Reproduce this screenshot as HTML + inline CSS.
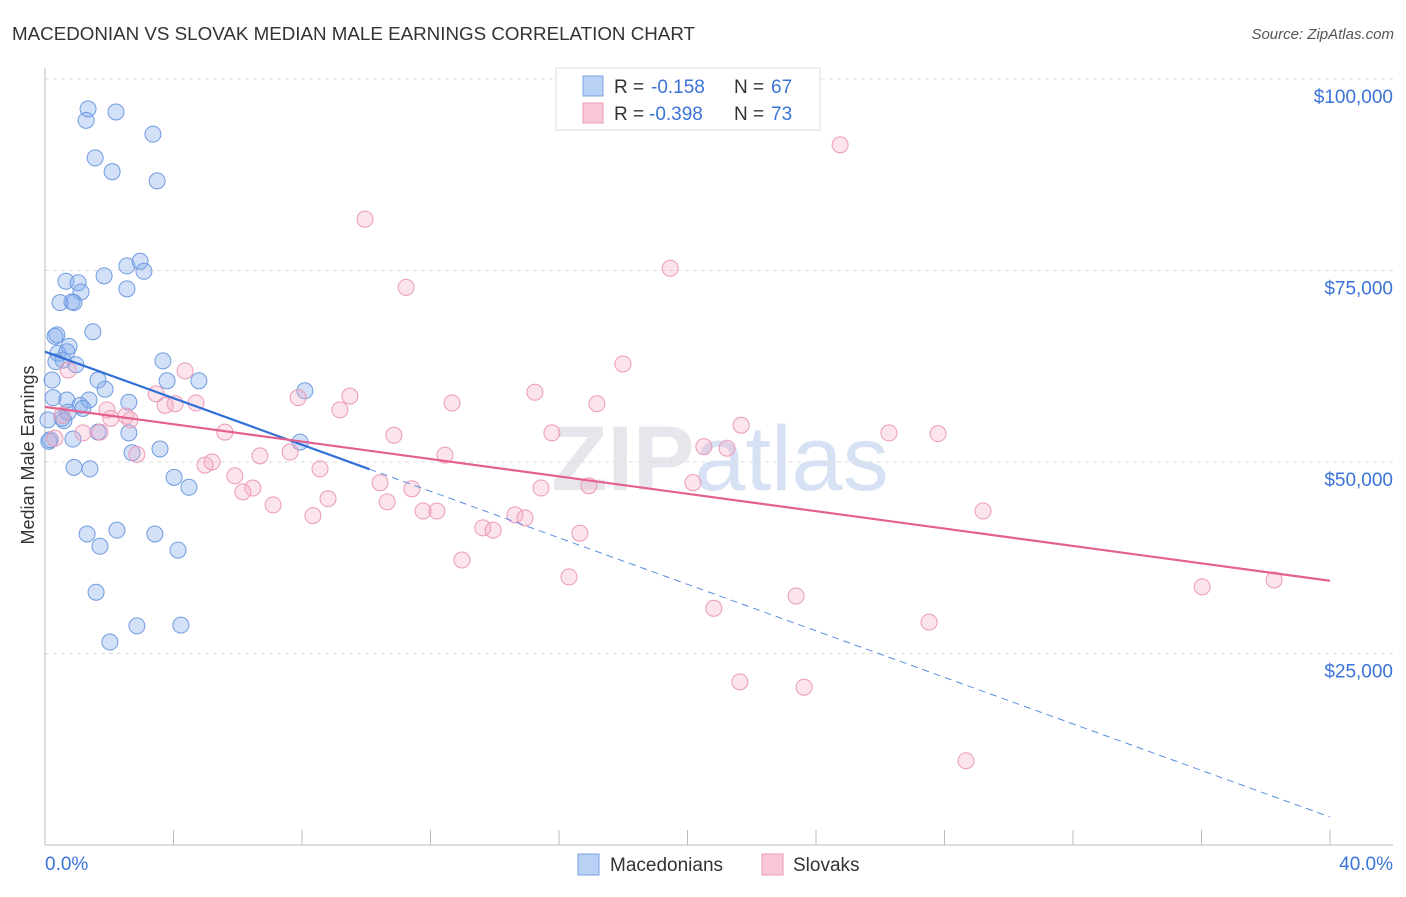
<!DOCTYPE html>
<html><head><meta charset="utf-8">
<style>
body{margin:0;background:#fff;font-family:"Liberation Sans",sans-serif;}
svg text{font-family:"Liberation Sans",sans-serif;}
</style></head>
<body>
<svg id="chart" width="1406" height="892" xmlns="http://www.w3.org/2000/svg">
<text x="12" y="40" font-size="18" fill="#333" textLength="683" lengthAdjust="spacingAndGlyphs">MACEDONIAN VS SLOVAK MEDIAN MALE EARNINGS CORRELATION CHART</text>
<text x="1394" y="39" font-size="15" fill="#555" text-anchor="end" font-style="italic">Source: ZipAtlas.com</text>
<text x="720" y="490" font-size="92" fill="#e6e6ec" text-anchor="middle" font-weight="bold">ZIP<tspan fill="#d6e2f4" font-weight="normal">atlas</tspan></text>
<g id="grid"></g>
<g id="axes"></g>
<g id="pts"></g>
<g id="lines"></g>
<text transform="translate(34,455) rotate(-90)" font-size="18" fill="#333" text-anchor="middle">Median Male Earnings</text>
<g>
<rect x="556" y="68" width="264" height="62" fill="#fff" stroke="#ddd"/>
<rect x="583" y="76" width="20" height="20" fill="#b9d1f5" stroke="#7aa3e2"/>
<rect x="583" y="103" width="20" height="20" fill="#f9c8d7" stroke="#eb9ab7"/>
<text x="614" y="93" font-size="19" fill="#333">R =</text>
<text x="651" y="93" font-size="19" fill="#3b74d9">-0.158</text>
<text x="734" y="93" font-size="19" fill="#333">N =</text>
<text x="771" y="93" font-size="19" fill="#3b74d9">67</text>
<text x="614" y="120" font-size="19" fill="#333">R =</text>
<text x="649" y="120" font-size="19" fill="#3b74d9">-0.398</text>
<text x="734" y="120" font-size="19" fill="#333">N =</text>
<text x="771" y="120" font-size="19" fill="#3b74d9">73</text>
</g>
<g>
<rect x="578" y="854" width="21" height="21" fill="#b9d1f5" stroke="#7aa3e2"/>
<text x="610" y="871" font-size="19" fill="#333">Macedonians</text>
<rect x="762" y="854" width="21" height="21" fill="#f9c8d7" stroke="#eb9ab7"/>
<text x="793" y="871" font-size="19" fill="#333">Slovaks</text>
</g>
</svg>
<script>
const yTicks=[25,50,75,100];
const yTickLabels=["$25,000","$50,000","$75,000","$100,000"];
const xTickLabels=["0.0%","40.0%"];
const bluePx=[[88,109],[116,112],[86,120],[153,134],[95,158],[112,172],[157,181],[127,266],[140,261],[144,271],[104,276],[66,281],[78,283],[127,289],[81,292],[60,303],[72,302],[74,303],[93,332],[57,335],[55,336],[69,346],[58,353],[67,352],[63,360],[163,361],[76,365],[56,362],[305,391],[52,380],[98,380],[167,381],[199,381],[105,389],[53,398],[67,400],[129,402],[89,400],[80,405],[68,412],[83,408],[62,418],[64,421],[98,432],[129,433],[300,442],[49,441],[73,439],[160,449],[132,453],[74,467],[90,469],[174,477],[189,487],[117,530],[87,534],[155,534],[100,546],[178,550],[96,592],[137,626],[181,625],[110,642],[48,420],[50,440]];
const pinkPx=[[840,145],[365,219],[670,268],[406,287],[623,364],[185,371],[68,370],[535,392],[156,394],[350,396],[298,398],[196,403],[175,404],[165,405],[597,404],[452,403],[340,410],[107,410],[126,416],[62,415],[741,425],[100,432],[225,432],[394,435],[889,433],[938,434],[552,433],[727,448],[704,447],[290,452],[260,456],[445,455],[137,454],[212,462],[205,465],[320,469],[235,476],[380,483],[693,483],[253,488],[589,486],[541,488],[243,492],[412,489],[328,499],[387,502],[273,505],[423,511],[437,511],[313,516],[515,515],[525,518],[483,528],[493,530],[580,533],[983,511],[462,560],[569,577],[1202,587],[1274,580],[796,596],[714,608],[929,622],[740,682],[804,687],[966,761],[83,433],[55,438],[111,418],[130,420]];
const blueX=bluePx.map(p=>+((p[0]-45)/32.125).toFixed(2));
const blueY=bluePx.map(p=>+((845-p[1])/7.66).toFixed(1));
const pinkX=pinkPx.map(p=>+((p[0]-45)/32.125).toFixed(2));
const pinkY=pinkPx.map(p=>+((845-p[1])/7.66).toFixed(1));
const blueTrend=[64.4,3.66];
const blueSolidEnd=10.1;
const pinkTrend=[57.2,34.5];

const X=v=>45+v*32.125, Y=v=>845-v*7.66;
const NS="http://www.w3.org/2000/svg";
function mk(tag,attrs,parent){const e=document.createElementNS(NS,tag);for(const k in attrs)e.setAttribute(k,attrs[k]);document.getElementById(parent).appendChild(e);return e;}
yTicks.forEach((t,i)=>{
 const l=mk('line',{x1:45,x2:1393,y1:Y(t),y2:Y(t),stroke:'#ddd','stroke-dasharray':'4,4'},'grid');
 
 
 const tx=mk('text',{x:1393,y:Y(t)+24,'font-size':19,fill:'#3b74d9','text-anchor':'end'},'grid');
 tx.textContent=yTickLabels[i];
 
 
});
let ax=mk('line',{x1:45,x2:45,y1:68,y2:845,stroke:'#bbb'},'axes');


ax=mk('line',{x1:45,x2:1393,y1:845,y2:845,stroke:'#bbb'},'axes');


for(let i=1;i<=10;i++){const t=mk('line',{x1:X(i*4),x2:X(i*4),y1:830,y2:845,stroke:'#bbb'},'axes');
 
 }
let xl=mk('text',{x:45,y:870,'font-size':19,fill:'#3b74d9'},'axes');xl.textContent=xTickLabels[0];


xl=mk('text',{x:1393,y:870,'font-size':19,fill:'#3b74d9','text-anchor':'end'},'axes');xl.textContent=xTickLabels[1];


blueX.forEach((x,i)=>{const c=mk('circle',{cx:X(x),cy:Y(blueY[i]),r:8,fill:'rgba(130,170,235,0.35)',stroke:'#6f9be0','stroke-width':1},'pts');
 
 });
pinkX.forEach((x,i)=>{const c=mk('circle',{cx:X(x),cy:Y(pinkY[i]),r:8,fill:'rgba(245,165,195,0.3)',stroke:'#eb9ab7','stroke-width':1},'pts');
 
 });
const bAt=x=>blueTrend[0]+(blueTrend[1]-blueTrend[0])*x/40;
let ln=mk('line',{x1:X(0),y1:Y(bAt(0)),x2:X(blueSolidEnd),y2:Y(bAt(blueSolidEnd)),stroke:'#2f6fd6','stroke-width':2.2},'lines');


ln=mk('line',{x1:X(blueSolidEnd),y1:Y(bAt(blueSolidEnd)),x2:X(40),y2:Y(bAt(40)),stroke:'#5b8ee0','stroke-width':1,'stroke-dasharray':'7,5'},'lines');


ln=mk('line',{x1:X(0),y1:Y(pinkTrend[0]),x2:X(40),y2:Y(pinkTrend[1]),stroke:'#e4608e','stroke-width':2.2},'lines');


</script>
</body></html>
